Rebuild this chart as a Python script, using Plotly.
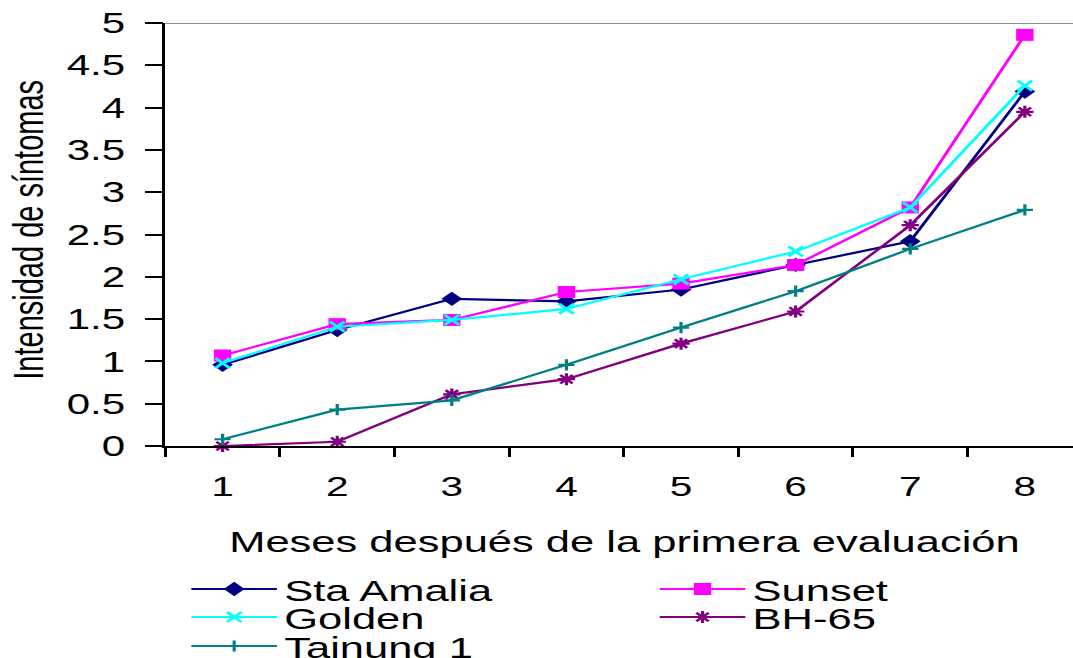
import plotly.graph_objects as go

# Months after the first evaluation
months = ["1", "2", "3", "4", "5", "6", "7", "8"]

# Symptom intensity per cultivar
sta_amalia = [0.96, 1.37, 1.74, 1.71, 1.85, 2.14, 2.42, 4.19]
sunset = [1.07, 1.44, 1.49, 1.82, 1.92, 2.14, 2.82, 4.86]
golden = [0.98, 1.41, 1.49, 1.62, 1.97, 2.30, 2.82, 4.26]
bh65 = [0.00, 0.05, 0.61, 0.79, 1.21, 1.59, 2.61, 3.95]
tainung1 = [0.08, 0.43, 0.54, 0.96, 1.40, 1.83, 2.33, 2.79]

y_ticks = [0, 0.5, 1, 1.5, 2, 2.5, 3, 3.5, 4, 4.5, 5]

FONT = "Liberation Sans, Arial, sans-serif"
W, H = 740, 658
STRETCH = 1073 / W

# name, values, colour, marker, legend id, legend anchor (px from left, px from top)
series = [
    ("Sta Amalia", sta_amalia, "#000080", dict(symbol="diamond", size=11), "legend", (127, 589)),
    ("Sunset", sunset, "#FF00FF", dict(symbol="square", size=12), "legend2", (450, 589)),
    ("Golden", golden, "#00FFFF", dict(symbol="x-thin", size=10, line=dict(width=2.4, color="#00FFFF")), "legend3", (127, 617)),
    ("BH-65", bh65, "#800080", dict(symbol="asterisk", size=10, line=dict(width=2.2, color="#800080")), "legend4", (450, 617)),
    ("Tainung 1", tainung1, "#008080", dict(symbol="cross-thin", size=8, line=dict(width=2.2, color="#008080")), "legend5", (127, 646)),
]

fig = go.Figure()
legends = {}
for name, vals, color, marker, leg, (lx, ly) in series:
    fig.add_trace(go.Scatter(
        x=months, y=vals, name=name, mode="lines+markers",
        line=dict(color=color, width=2.2),
        marker=dict(color=color, **marker),
        cliponaxis=False, legend=leg,
    ))
    legends[leg] = dict(
        orientation="h", xref="container", yref="container",
        x=lx / W, y=1 - ly / H, xanchor="left", yanchor="middle",
        font=dict(family=FONT, size=30, color="#000000"),
        bgcolor="rgba(0,0,0,0)", itemwidth=59,
        itemclick=False, itemdoubleclick=False,
    )

fig.update_layout(
    width=W, height=H,
    margin=dict(l=114, r=0, t=23, b=212, autoexpand=False),
    paper_bgcolor="#FFFFFF", plot_bgcolor="#FFFFFF",
    font=dict(family=FONT, color="#000000"),
    showlegend=True,
    xaxis=dict(
        type="category", range=[-0.5, 7.42], tickson="boundaries",
        showline=True, linecolor="#000000", linewidth=2,
        ticks="outside", ticklen=9, tickwidth=1.5, tickcolor="#000000",
        tickfont=dict(family=FONT, size=28, color="#000000"),
        ticklabelstandoff=14, showgrid=False, zeroline=False,
    ),
    yaxis=dict(
        range=[0, 5], tickmode="array", tickvals=y_ticks,
        showline=True, linecolor="#000000", linewidth=1.8,
        ticks="outside", ticklen=12, tickwidth=2, tickcolor="#000000",
        tickfont=dict(family=FONT, size=29, color="#000000"),
        ticklabelstandoff=8, showgrid=False, zeroline=False,
    ),
    shapes=[dict(type="line", xref="paper", x0=0, x1=1, yref="y", y0=5, y1=5,
                 line=dict(color="#8C8C8C", width=2), layer="below")],
    annotations=[
        dict(text="Intensidad de síntomas", textangle=-90, showarrow=False,
             xref="paper", yref="paper", x=-0.1506, y=0.5106,
             xanchor="center", yanchor="middle",
             font=dict(family=FONT, size=29, color="#000000")),
        dict(text="Meses después de la primera evaluación", showarrow=False,
             xref="paper", yref="paper", x=0.505, y=(446 - 541) / 423,
             xanchor="center", yanchor="middle",
             font=dict(family=FONT, size=30, color="#000000")),
    ],
    **legends,
)

# The page shows the figure widened to the full window width.
post = (
    "document.body.style.margin='0';"
    "document.body.style.overflow='hidden';"
    "var gd=document.getElementById('{plot_id}');"
    "gd.style.transformOrigin='0 0';"
    "gd.style.transform='scaleX(" + f"{STRETCH:.5f}" + ")';"
)

fig.write_html("out.html", post_script=post, config={"displayModeBar": False})
